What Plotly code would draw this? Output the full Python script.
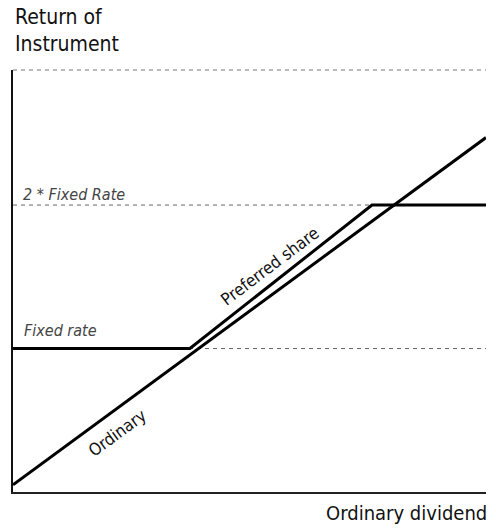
import plotly.graph_objects as go

# Data (schematic values, axis 0..100)
ordinary_x = [0, 100]
ordinary_y = [1.7, 84]
preferred_x = [0, 37.4, 75.9, 100]
preferred_y = [34, 34, 68, 68]
fixed_rate = 34
double_fixed_rate = 68

FONT = "DejaVu Sans Condensed, DejaVu Sans, sans-serif"

fig = go.Figure()
fig.add_trace(go.Scatter(x=ordinary_x, y=ordinary_y, mode="lines",
                         line=dict(color="black", width=3), hoverinfo="skip"))
fig.add_trace(go.Scatter(x=preferred_x, y=preferred_y, mode="lines",
                         line=dict(color="black", width=3), hoverinfo="skip"))

# dashed reference lines
for yv in [fixed_rate, double_fixed_rate]:
    fig.add_shape(type="line", xref="paper", x0=0, x1=1, yref="y", y0=yv, y1=yv,
                  line=dict(color="#666", width=1, dash="4px,4px"), layer="below")
fig.add_shape(type="line", xref="paper", x0=0, x1=1, yref="paper", y0=1, y1=1,
              line=dict(color="#777", width=1, dash="4px,4px"))

anns = [
    dict(text="Return of<br>Instrument", xref="paper", yref="paper", x=0, y=1.093,
         xanchor="left", yanchor="middle", align="left", xshift=0,
         font=dict(size=21, color="#111", family=FONT)),
    dict(text="Ordinary dividend", xref="paper", yref="paper", x=1.006, y=-0.049,
         xanchor="right", yanchor="middle",
         font=dict(size=20, color="#111", family=FONT)),
    dict(text="<i>Fixed rate</i>", xref="x", yref="y", x=2.0, y=38.2,
         xanchor="left", yanchor="middle",
         font=dict(size=16, color="#444", family=FONT)),
    dict(text="<i>2 * Fixed Rate</i>", xref="x", yref="y", x=1.6, y=70.6,
         xanchor="left", yanchor="middle",
         font=dict(size=16, color="#444", family=FONT)),
    dict(text="Preferred share", xref="x", yref="y", x=54.3, y=53.6,
         textangle=-37, font=dict(size=17, color="#111", family=FONT)),
    dict(text="Ordinary", xref="x", yref="y", x=22.0, y=14.0,
         textangle=-36, font=dict(size=17, color="#111", family=FONT)),
]
for a in anns:
    a["showarrow"] = False
    fig.add_annotation(**a)

fig.update_layout(
    width=496, height=530,
    margin=dict(l=13, r=10, t=70, b=38),
    plot_bgcolor="white", paper_bgcolor="white",
    showlegend=False,
    xaxis=dict(range=[0, 100], showline=True, linecolor="#222", linewidth=1.5,
               showgrid=False, zeroline=False, showticklabels=False, ticks=""),
    yaxis=dict(range=[0, 100], showline=True, linecolor="#111", linewidth=2,
               showgrid=False, zeroline=False, showticklabels=False, ticks=""),
)
fig.write_html("out.html", config={"displayModeBar": False},
               post_script="document.body.style.margin='0';document.body.style.overflow='hidden';")
